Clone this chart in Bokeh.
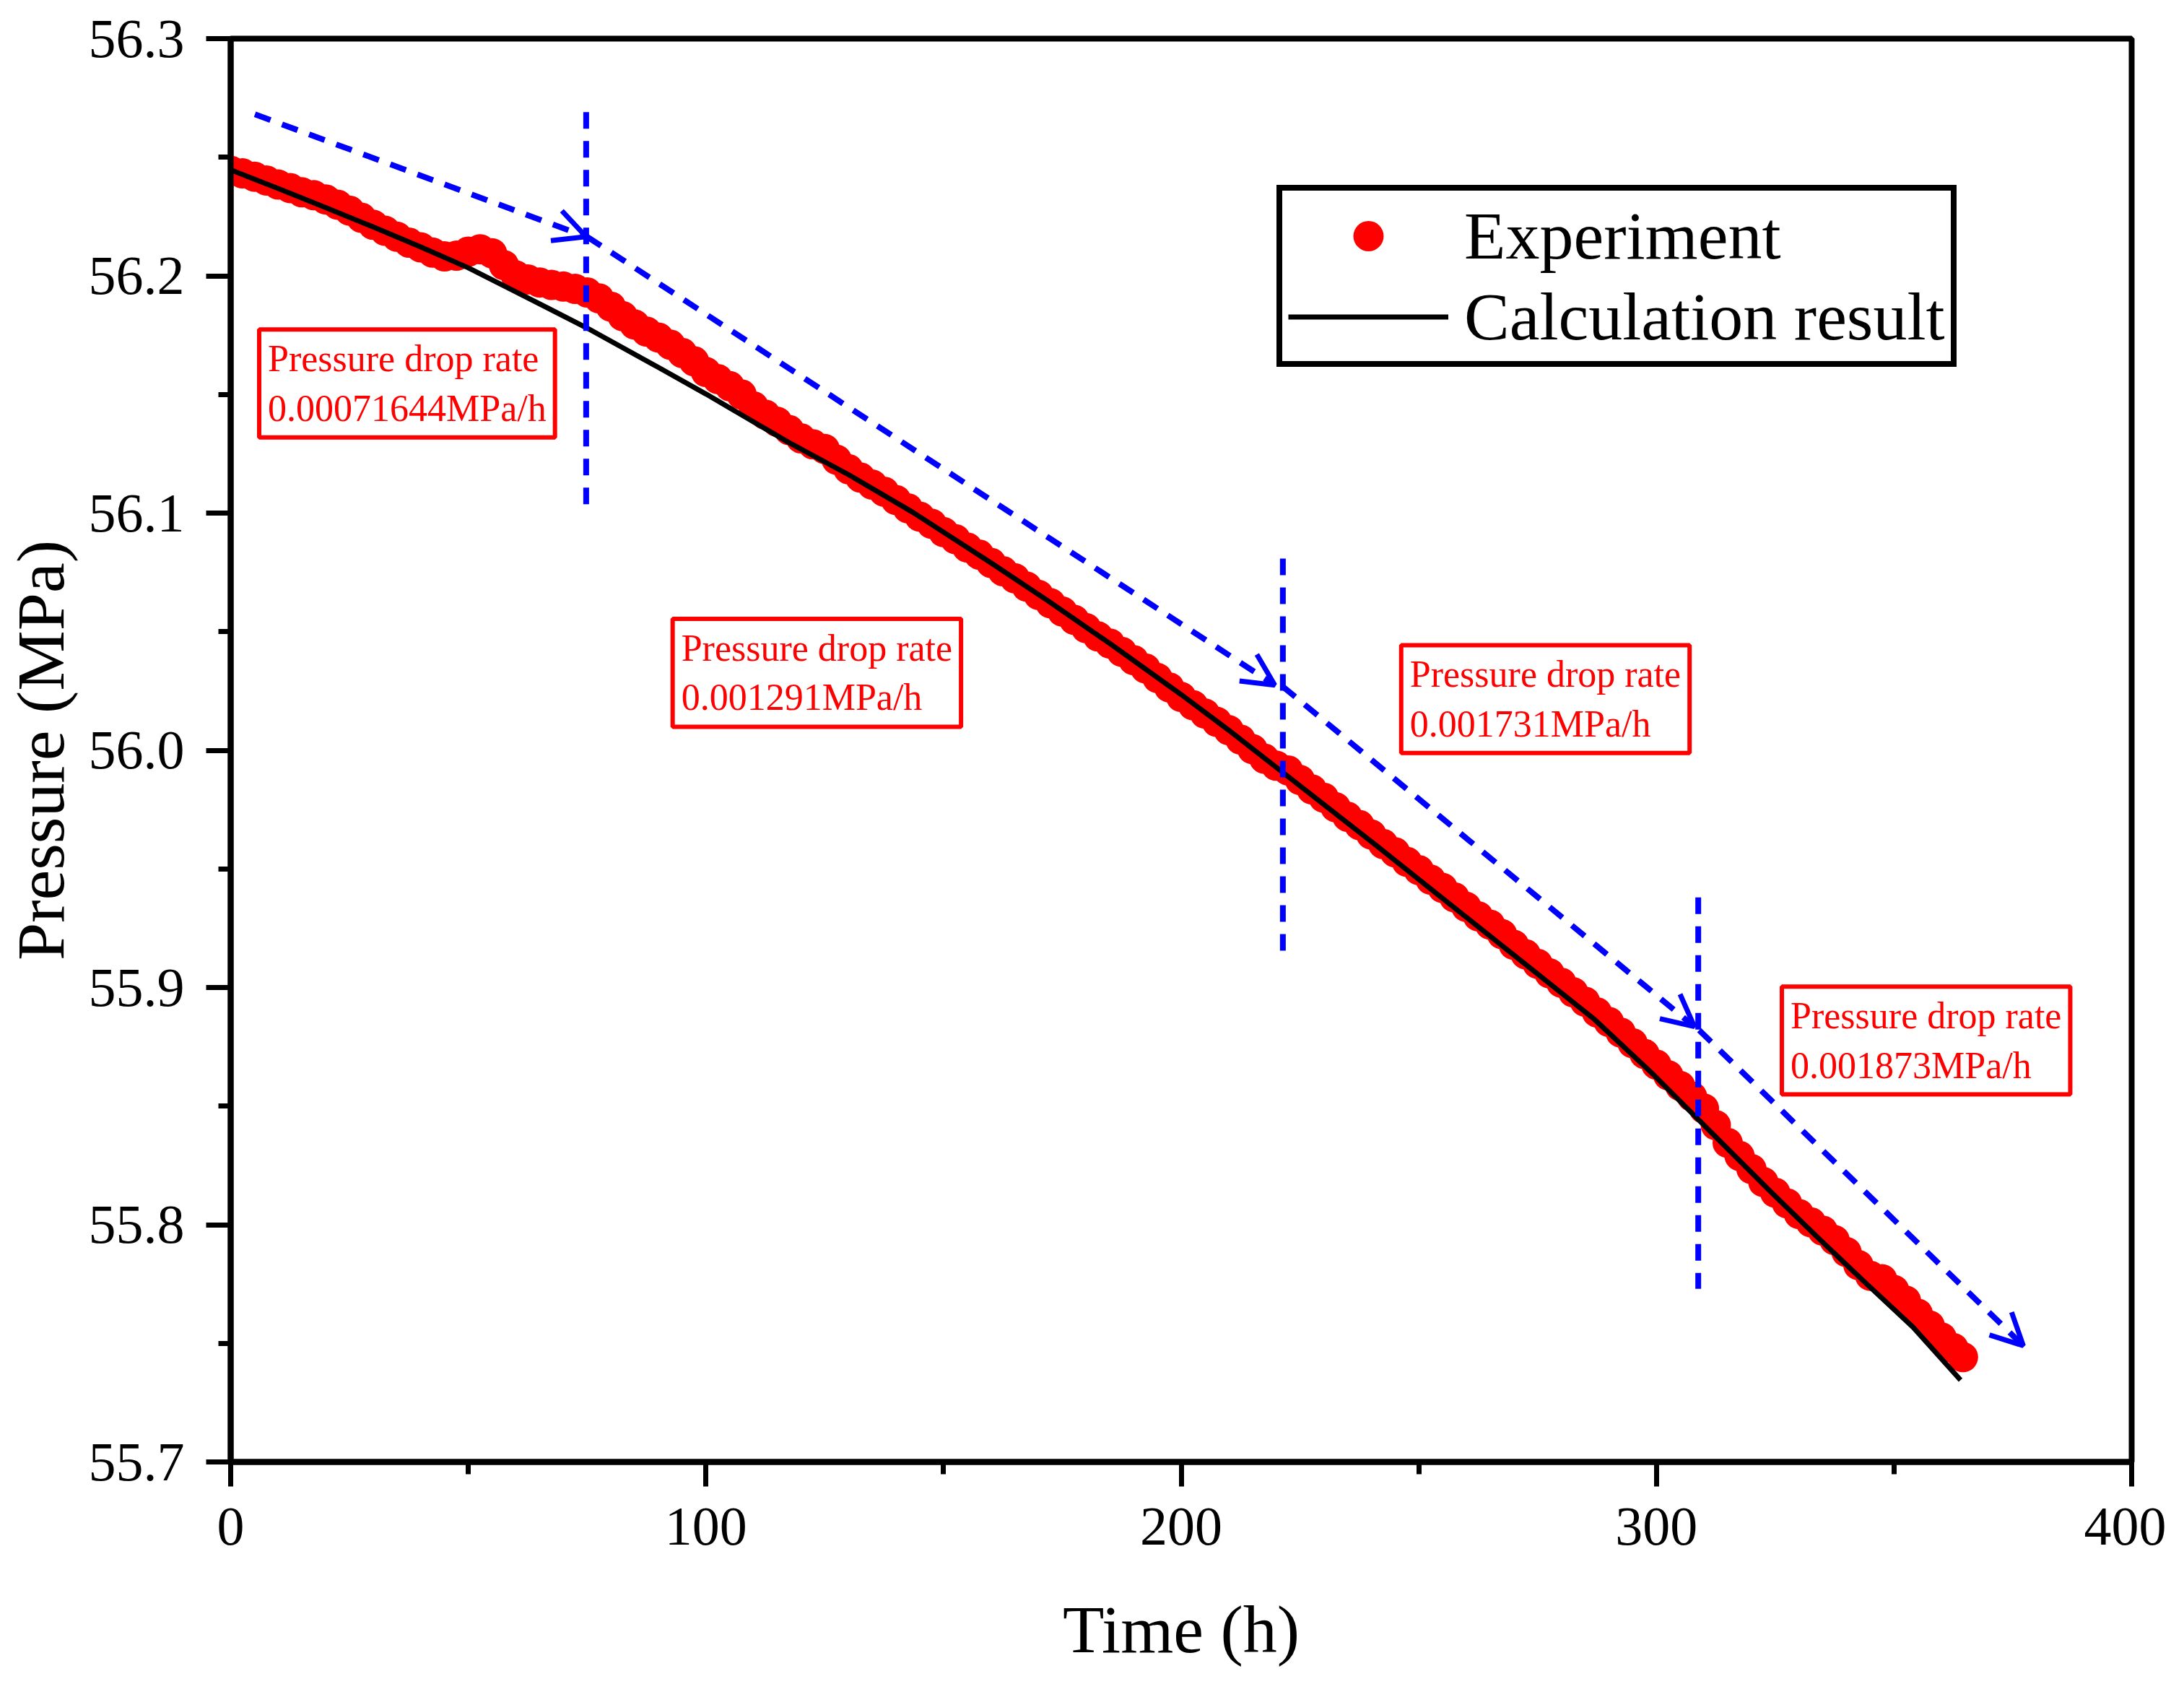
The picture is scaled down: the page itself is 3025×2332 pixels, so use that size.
from bokeh.plotting import figure
from bokeh.models import (Range1d, FixedTicker, PrintfTickFormatter, Legend, LegendItem,
                          Arrow, OpenHead, Label)
from bokeh.embed import file_html
from bokeh.resources import INLINE

# ---------------- data ----------------
exp_time = [0, 2.5, 5, 7.5, 10, 12.5, 15, 17.5, 20, 22.5, 25, 27.5, 30, 32.5, 35, 37.5, 40, 42.5, 45, 47.5,
            50, 52.5, 55, 57.5, 60, 62.5, 65, 67.5, 70, 72.5, 75, 77.5, 80, 82.5, 85, 87.5, 90, 92.5, 95, 97.5,
            100, 102.5, 105, 107.5, 110, 112.5, 115, 117.5, 120, 122.5, 125, 127.5, 130, 132.5, 135, 137.5,
            140, 142.5, 145, 147.5, 150, 152.5, 155, 157.5, 160, 162.5, 165, 167.5, 170, 172.5, 175, 177.5,
            180, 182.5, 185, 187.5, 190, 192.5, 195, 197.5, 200, 202.5, 205, 207.5, 210, 212.5, 215, 217.5,
            220, 222.5, 225, 227.5, 230, 232.5, 235, 237.5, 240, 242.5, 245, 247.5, 250, 252.5, 255, 257.5,
            260, 262.5, 265, 267.5, 270, 272.5, 275, 277.5, 280, 282.5, 285, 287.5, 290, 292.5, 295, 297.5,
            300, 302.5, 305, 307.5, 310, 312.5, 315, 317.5, 320, 322.5, 325, 327.5, 330, 332.5, 335, 337.5,
            340, 342.5, 345, 347.5, 350, 352.5, 355, 357.5, 360, 362.5, 364.5]
exp_pressure = [56.2443, 56.2432, 56.2418, 56.2402, 56.2385, 56.2370, 56.2352, 56.2340, 56.2322, 56.2300,
                56.2275, 56.2245, 56.2215, 56.2190, 56.2165, 56.2140, 56.2120, 56.2098, 56.2082, 56.2085,
                56.2102, 56.2112, 56.2095, 56.2045, 56.2002, 56.1985, 56.1972, 56.1962, 56.1955, 56.1945,
                56.1930, 56.1905, 56.1870, 56.1830, 56.1795, 56.1765, 56.1740, 56.1710, 56.1675, 56.1640,
                56.1595, 56.1565, 56.1535, 56.1500, 56.1450, 56.1415, 56.1385, 56.1350, 56.1315, 56.1290,
                56.1270, 56.1225, 56.1185, 56.1150, 56.1120, 56.1090, 56.1055, 56.1020, 56.0985, 56.0955,
                56.0920, 56.0890, 56.0855, 56.0825, 56.0790, 56.0755, 56.0725, 56.0690, 56.0655, 56.0620,
                56.0585, 56.0550, 56.0515, 56.0480, 56.0450, 56.0415, 56.0380, 56.0345, 56.0305, 56.0265,
                56.0225, 56.0190, 56.0155, 56.0120, 56.0085, 56.0045, 56.0005, 55.9965, 55.9935, 55.9915,
                55.9875, 55.9835, 55.9800, 55.9760, 55.9720, 55.9685, 55.9645, 55.9605, 55.9570, 55.9530,
                55.9495, 55.9455, 55.9420, 55.9380, 55.9340, 55.9300, 55.9265, 55.9225, 55.9180, 55.9140,
                55.9100, 55.9060, 55.9020, 55.8980, 55.8940, 55.8895, 55.8855, 55.8810, 55.8765, 55.8720,
                55.8675, 55.8630, 55.8585, 55.8540, 55.8490, 55.8420, 55.8345, 55.8290, 55.8235, 55.8180,
                55.8135, 55.8090, 55.8045, 55.8010, 55.7975, 55.7935, 55.7885, 55.7830, 55.7785, 55.7770,
                55.7725, 55.7680, 55.7625, 55.7575, 55.7525, 55.7480, 55.7442]

calc_time = [0, 10, 20, 30, 40, 50, 60, 75, 90, 100, 117.4, 130, 143.4, 160, 172, 185, 200, 210, 221.5,
             241, 256, 272, 287, 299, 309, 324, 334, 344, 354, 364]
calc_pressure = [56.2447, 56.2368, 56.2288, 56.2206, 56.2122, 56.2034, 56.1933, 56.1780, 56.1614, 56.1502,
                 56.1298, 56.1162, 56.1005, 56.0790, 56.0630, 56.0450, 56.0235, 56.0085, 55.9905,
                 55.9600, 55.9360, 55.9105, 55.8865, 55.8640, 55.8440, 55.8140, 55.7945, 55.7755,
                 55.7568, 55.7345]

x_ticks = [0, 100, 200, 300, 400]
x_minor = [50, 150, 250, 350]
y_ticks = [55.7, 55.8, 55.9, 56.0, 56.1, 56.2, 56.3]
y_minor = [55.75, 55.85, 55.95, 56.05, 56.15, 56.25]

# dashed arrows (start -> end)
arrow_x0 = [5.1, 75.0, 221.3, 309.0]
arrow_y0 = [56.2681, 56.2165, 56.0270, 55.8820]
arrow_x1 = [74.8, 219.7, 308.0, 377.2]
arrow_y1 = [56.2165, 56.0275, 55.8835, 55.7490]

# dashed vertical separators
vline_x = [74.8, 221.4, 308.8]
vline_top = [56.2690, 56.0808, 55.9380]
vline_bottom = [56.1034, 55.9150, 55.7730]

# annotation boxes (top-left corner) and texts
box_x = [6.0, 93.0, 246.3, 326.4]
box_y = [56.1774, 56.0554, 56.0443, 55.9004]
box_text = ["Pressure drop rate\n0.00071644MPa/h",
            "Pressure drop rate\n0.001291MPa/h",
            "Pressure drop rate\n0.001731MPa/h",
            "Pressure drop rate\n0.001873MPa/h"]

FONT = "Liberation Serif"

# ---------------- figure ----------------
p = figure(width=3000, height=2310, output_backend="svg", toolbar_location=None,
           x_range=Range1d(0, 400), y_range=Range1d(55.7, 56.3),
           min_border_left=318, min_border_right=48, min_border_top=53, min_border_bottom=282)
p.grid.visible = False
p.outline_line_color = "black"
p.outline_line_width = 8
p.outline_line_alpha = 1.0

exp_r = p.scatter(exp_time, exp_pressure, size=42, fill_color="#FF0000", line_color=None)
calc_r = p.line(calc_time, calc_pressure, line_width=7, line_color="black")

p.segment(x0=vline_x, y0=vline_top, x1=vline_x, y1=vline_bottom,
          line_color="#0000FF", line_width=8, line_dash="23 17")

for xs, ys, xe, ye in zip(arrow_x0, arrow_y0, arrow_x1, arrow_y1):
    p.add_layout(Arrow(x_start=xs, y_start=ys, x_end=xe, y_end=ye,
                       line_color="#0000FF", line_width=8, line_dash="23 17",
                       end=OpenHead(size=44, line_color="#0000FF", line_width=7)))

for bx, by, bt in zip(box_x, box_y, box_text):
    p.add_layout(Label(x=bx, y=by, text=bt, anchor="top_left",
                       text_font=FONT, text_font_size="52px", text_color="#FF0000",
                       text_line_height=1.2,
                       border_line_color="#FF0000", border_line_width=6,
                       background_fill_color="white", padding=12))

# axes
p.xaxis.ticker = FixedTicker(ticks=x_ticks, minor_ticks=x_minor)
p.yaxis.ticker = FixedTicker(ticks=y_ticks, minor_ticks=y_minor)
p.xaxis.formatter = PrintfTickFormatter(format="%d")
p.yaxis.formatter = PrintfTickFormatter(format="%.1f")
p.xaxis.axis_label = "Time (h)"
p.yaxis.axis_label = "Pressure (MPa)"
for ax in (p.xaxis[0], p.yaxis[0]):
    ax.axis_line_width = 8
    ax.axis_line_color = "black"
    ax.major_tick_line_width = 7
    ax.minor_tick_line_width = 7
    ax.major_tick_out = 34
    ax.major_tick_in = 0
    ax.minor_tick_out = 17
    ax.minor_tick_in = 0
    ax.major_label_text_font = FONT
    ax.major_label_text_font_size = "76px"
    ax.major_label_text_color = "black"
    ax.axis_label_text_font = FONT
    ax.axis_label_text_font_size = "94px"
    ax.axis_label_text_font_style = "normal"
    ax.axis_label_text_color = "black"
p.xaxis.major_label_standoff = 30
p.xaxis.axis_label_standoff = 62
p.yaxis.major_label_standoff = 30
p.yaxis.axis_label_standoff = 12

legend = Legend(items=[LegendItem(label="Experiment", renderers=[exp_r]),
                       LegendItem(label="Calculation result", renderers=[calc_r])],
                location=(1449, 1516), orientation="vertical",
                border_line_color="black", border_line_width=8, border_line_alpha=1.0,
                label_text_font=FONT, label_text_font_size="94px", label_text_color="black",
                glyph_width=222, glyph_height=105, label_height=105,
                spacing=4, padding=8, label_standoff=22, margin=0,
                background_fill_color="white", background_fill_alpha=1.0)
p.add_layout(legend)

open("out.html", "w").write(file_html(p, INLINE))
